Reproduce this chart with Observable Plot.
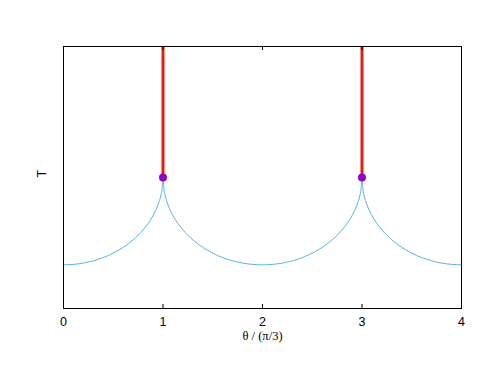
<!DOCTYPE html>
<html>
<head>
<meta charset="utf-8">
<script src="https://cdn.jsdelivr.net/npm/d3@7"></script>
<script src="https://cdn.jsdelivr.net/npm/@observablehq/plot@0.6"></script>
<style>
  html, body { margin: 0; padding: 0; background: #fff; }
  #chart svg { display: block; }
</style>
</head>
<body>
<div id="chart"></div>
<script>
// Blue curve: T versus theta/(pi/3) (arbitrary T units, no ticks on y)
const theta = [
  0, 0.1, 0.2, 0.3, 0.4, 0.5, 0.6, 0.7, 0.8, 0.85, 0.9, 0.95, 0.98, 0.99, 1.0,
  1.01, 1.02, 1.05, 1.1, 1.15, 1.2, 1.3, 1.4, 1.5, 1.6, 1.7, 1.8, 1.9, 2.0,
  2.1, 2.2, 2.3, 2.4, 2.5, 2.6, 2.7, 2.8, 2.85, 2.9, 2.95, 2.98, 2.99, 3.0,
  3.01, 3.02, 3.05, 3.1, 3.15, 3.2, 3.3, 3.4, 3.5, 3.6, 3.7, 3.8, 3.9, 4.0
];
const T = [
  0.50, 0.505, 0.52, 0.546, 0.583, 0.634, 0.70, 0.786, 0.90, 0.973, 1.064, 1.188, 1.30, 1.36, 1.50,
  1.36, 1.30, 1.188, 1.064, 0.973, 0.90, 0.786, 0.70, 0.634, 0.583, 0.546, 0.52, 0.505, 0.50,
  0.505, 0.52, 0.546, 0.583, 0.634, 0.70, 0.786, 0.90, 0.973, 1.064, 1.188, 1.30, 1.36, 1.50,
  1.36, 1.30, 1.188, 1.064, 0.973, 0.90, 0.786, 0.70, 0.634, 0.583, 0.546, 0.52, 0.505, 0.50
];
// Cusps (purple dots) and red vertical segments above them
const cuspTheta = [1, 3];
const cuspT = [1.5, 1.5];
const redTop = [3, 3];
// Axis
const xTicks = [0, 1, 2, 3, 4];
const xLabel = "θ / (π/3)";
const yLabel = "T";

const curve = theta.map((t, i) => ({theta: t, T: T[i]}));
const cusps = cuspTheta.map((t, i) => ({theta: t, T: cuspT[i], top: redTop[i]}));

const sans = "'Liberation Sans', Arial, sans-serif";
const serif = "'Liberation Serif', 'DejaVu Serif', 'Times New Roman', serif";

const chart = Plot.plot({
  width: 498,
  height: 385,
  marginLeft: 63,
  marginRight: 37,
  marginTop: 46,
  marginBottom: 77,
  style: {fontFamily: sans, fontSize: "12px", color: "black", background: "white"},
  x: {domain: [0, 4]},
  y: {domain: [0, 3]},
  marks: [
    Plot.line(curve, {x: "theta", y: "T", stroke: "#56b4e9", strokeWidth: 1, curve: "monotone-x"}),
    Plot.ruleX(cusps, {x: "theta", y1: "T", y2: "top", stroke: "#e51e10", strokeWidth: 3}),
    Plot.dot(cusps, {x: "theta", y: "T", r: 4, fill: "#9400d3", stroke: "none"}),
    Plot.tickX(xTicks, {x: d => d, insetTop: 258, stroke: "black", strokeWidth: 1}),
    Plot.tickX(xTicks, {x: d => d, insetBottom: 258, stroke: "black", strokeWidth: 1}),
    Plot.axisX(xTicks, {anchor: "bottom", tickSize: 0, tickPadding: 9, label: null, tickFormat: d => String(d), fontSize: 12.5}),
    Plot.axisY({ticks: [], label: null, tickSize: 0}),
    Plot.frame({stroke: "black", strokeWidth: 1}),
    Plot.text([xLabel], {frameAnchor: "bottom", dy: 31.5, fontFamily: serif, fontSize: 12.5, fill: "black"}),
    Plot.text([yLabel], {frameAnchor: "left", dx: -22, rotate: -90, fontFamily: sans, fontSize: 12.5, fill: "black"})
  ]
});
d3.select(chart).selectAll("text")
  .filter(function() { return this.textContent.indexOf("π") >= 0; })
  .style("font-family", serif)
  .style("font-size", "12.5px");
document.getElementById("chart").appendChild(chart);
</script>
</body>
</html>
